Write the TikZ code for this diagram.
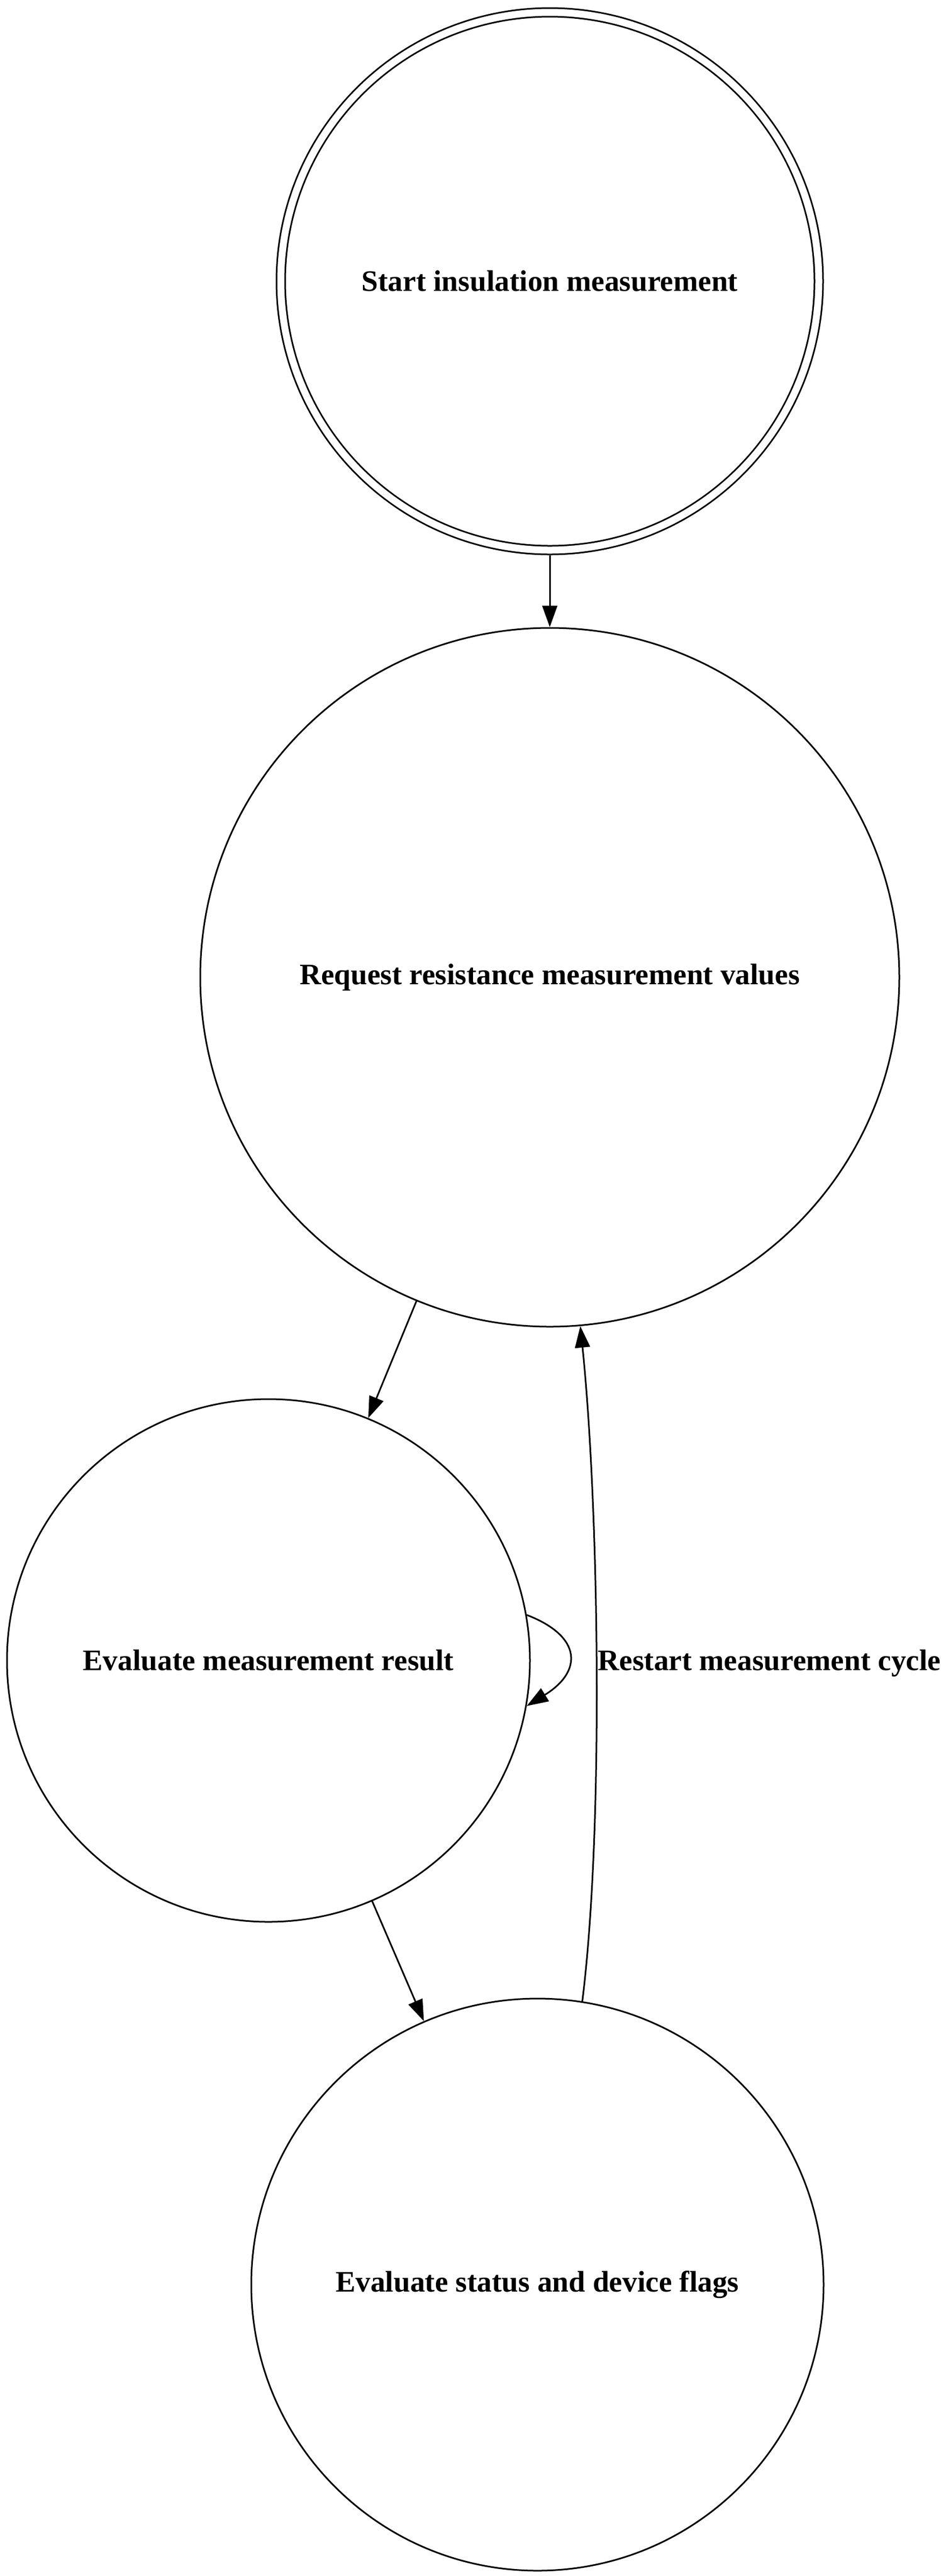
\documentclass[tikz,border=0pt]{standalone}
\usepackage{fontspec}
\setmainfont{Liberation Serif}
\usetikzlibrary{arrows.meta}

\begin{document}
\begin{tikzpicture}[x=1pt, y=1pt,
    phase/.style={draw, circle, line width=0.75pt, inner sep=0pt,
      font=\fontsize{13.85}{16}\selectfont\bfseries},
    flow/.style={-{Triangle[length=10pt,width=7pt]}, line width=0.75pt},
    flowlabel/.style={anchor=west, inner sep=0.3pt,
      font=\fontsize{13.85}{16}\selectfont\bfseries}]

    \useasboundingbox (0,0) rectangle (440.25,-1200);

    \node[phase, minimum size=250.5pt, double, double distance=3.25pt,
      outer sep=2.4pt] (start) at (256,-131) {Start insulation measurement};
    \node[phase, minimum size=325.5pt] (req) at (256,-455.25)
      {Request resistance measurement values};
    \node[phase, minimum size=243.5pt] (evres) at (125,-773.5)
      {Evaluate measurement result};
    \node[phase, minimum size=266.5pt] (status) at (250.25,-1064.25)
      {Evaluate status and device flags};

    \draw[flow] (start) -- (req);
    \draw[flow] (req) -- (evres);
    \draw[flow] (evres) -- (status);

    \draw[flow]
    (evres.10) .. controls +(26,-10) and +(26,16) .. (evres.-10);

    \draw[flow]
    (status.81.6) .. controls +(10.25,82.25) and +(8.5,-82) ..
    node[flowlabel] {Restart measurement cycle} (req.275.4);
  \end{tikzpicture}
\end{document}
